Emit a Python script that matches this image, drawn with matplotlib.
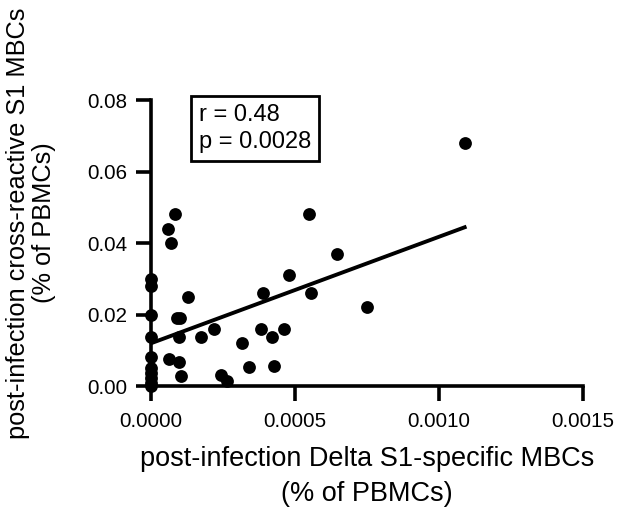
import matplotlib
matplotlib.use('Agg')
import matplotlib.pyplot as plt
import numpy as np

plt.rcParams['font.family'] = ['Liberation Sans', 'DejaVu Sans']

# Delta S1-specific MBCs (% of PBMCs) vs cross-reactive S1 MBCs (% of PBMCs)
delta_s1 = [0.0, 0.0, 0.0, 0.0, 0.0, 0.0, 0.0, 0.0, 0.0, 0.0,
            0.000083, 0.000058, 0.000068, 0.000549, 0.000647, 0.00048,
            0.000388, 0.000555, 0.000128, 0.000089, 0.0001, 0.000098,
            0.000173, 0.00022, 0.000382, 0.000421, 0.000463, 0.000318,
            0.000064, 0.000098, 0.000104, 0.00034, 0.000428, 0.000245,
            0.000263, 0.00109, 0.000752]
cross_s1 = [0.030, 0.028, 0.020, 0.0138, 0.0082, 0.005, 0.0036, 0.0022, 0.0008, 0.0,
            0.048, 0.044, 0.040, 0.048, 0.037, 0.031,
            0.026, 0.026, 0.025, 0.019, 0.019, 0.0138,
            0.0138, 0.016, 0.016, 0.0138, 0.016, 0.012,
            0.0075, 0.0068, 0.0029, 0.0053, 0.0057, 0.003,
            0.0013, 0.068, 0.022]
stats_text = 'r = 0.48\np = 0.0028'

x = np.array(delta_s1)
y = np.array(cross_s1)
slope, intercept = np.polyfit(x, y, 1)

fig = plt.figure(figsize=(6.18, 5.14), dpi=100)
ax = fig.add_axes([0.2443, 0.249, 0.6985, 0.5564])

ax.scatter(x, y, s=85, color='black', zorder=3, clip_on=False, linewidths=0)
xl = np.array([0, x.max()])
ax.plot(xl, slope * xl + intercept, color='black', lw=2.8, zorder=2)

ax.set_xlim(0, 0.0015)
ax.set_ylim(0, 0.08)
ax.set_xticks([0, 0.0005, 0.001, 0.0015])
ax.set_xticklabels(['0.0000', '0.0005', '0.0010', '0.0015'])
ax.set_yticks([0, 0.02, 0.04, 0.06, 0.08])
ax.set_yticklabels(['0.00', '0.02', '0.04', '0.06', '0.08'])

for s in ['top', 'right']:
    ax.spines[s].set_visible(False)
for s in ['left', 'bottom']:
    ax.spines[s].set_linewidth(2.6)
ax.tick_params(width=2.6, length=11, labelsize=14.8, pad=6)
ax.tick_params(axis='x', pad=8)

ax.set_xlabel('post-infection Delta S1-specific MBCs\n(% of PBMCs)',
              fontsize=19.5, linespacing=1.45)
ax.xaxis.set_label_coords(0.5, -0.21)
ax.set_ylabel('post-infection cross-reactive S1 MBCs\n(% of PBMCs)',
              fontsize=18.3, linespacing=1.1)
ax.yaxis.set_label_coords(-0.22, 0.57)

ax.text(0.111, 0.985, stats_text, transform=ax.transAxes, fontsize=17,
        va='top', ha='left', linespacing=1.28,
        bbox=dict(boxstyle='square,pad=0.35', fc='white', ec='black', lw=2))

fig.savefig('out.png', dpi=100)
